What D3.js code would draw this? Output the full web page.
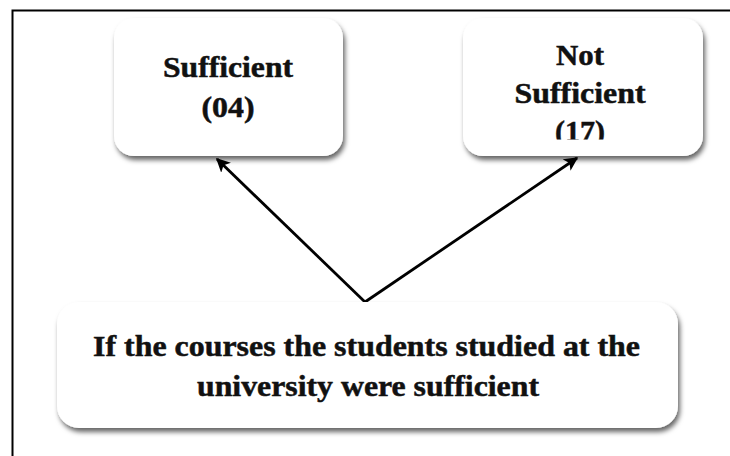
<!DOCTYPE html>
<html>
<head>
<meta charset="utf-8">
<script src="https://cdn.jsdelivr.net/npm/d3@7"></script>
<style>
  body { margin: 0; background: #fff; }
  text { font-family: "Liberation Serif", "Times New Roman", serif; font-weight: bold; fill: #111; stroke: #111; stroke-width: 0.5px; }
</style>
</head>
<body>
<div class="chart"></div>
<script>
// Diagram data
var outcomes = ['Sufficient', 'Not Sufficient']
var outcomeLines = [['Sufficient'], ['Not', 'Sufficient']]
var counts = [4, 17]
var questionLines = ['If the courses the students studied at the', 'university were sufficient']

var width = 730
var height = 456

var svg = d3.select('.chart')
  .append('svg')
  .attr('width', width)
  .attr('height', height)

var defs = svg.append('defs')

defs.append('filter')
  .attr('id', 'shadow')
  .attr('x', '-10%').attr('y', '-10%')
  .attr('width', '125%').attr('height', '135%')
  .append('feDropShadow')
  .attr('dx', 2)
  .attr('dy', 4)
  .attr('stdDeviation', 2.5)
  .attr('flood-color', '#000')
  .attr('flood-opacity', 0.6)

defs.append('marker')
  .attr('id', 'arrow')
  .attr('viewBox', '0 0 10 10')
  .attr('refX', 9)
  .attr('refY', 5)
  .attr('markerWidth', 5)
  .attr('markerHeight', 5)
  .attr('markerUnits', 'strokeWidth')
  .attr('orient', 'auto')
  .append('path')
  .attr('d', 'M0,0 L10,5 L0,10 L2.5,5 Z')
  .attr('fill', '#000')

// Frame (top and left edges only)
svg.append('path')
  .attr('d', 'M12.5,456 L12.5,10.5 L730,10.5')
  .attr('fill', 'none')
  .attr('stroke', '#000')
  .attr('stroke-width', 2)

// Scales for layout
var xScale = d3.scalePoint()
  .domain(outcomes)
  .range([228.5, 583])

var boxWidth = d3.scaleOrdinal().domain(outcomes).range([229, 240])
var boxTop = 18
var boxHeight = 138

var qBox = { x: 57, y: 302, w: 621, h: 126 }
var apex = [365, 302]

// Arrows from the question box to the outcome boxes
var tips = [[217, 159], [577, 158]]
svg.selectAll('line.arrow')
  .data(outcomes)
  .enter()
  .append('line')
  .attr('class', 'arrow')
  .attr('x1', apex[0])
  .attr('y1', apex[1])
  .attr('x2', (d, i) => tips[i][0])
  .attr('y2', (d, i) => tips[i][1])
  .attr('stroke', '#000')
  .attr('stroke-width', 2.8)
  .attr('marker-end', 'url(#arrow)')

// Outcome boxes
var fmt = d3.format('02d')

var groups = svg.selectAll('g.outcome')
  .data(outcomes)
  .enter()
  .append('g')
  .attr('class', 'outcome')

groups.append('rect')
  .attr('x', d => xScale(d) - boxWidth(d) / 2)
  .attr('y', boxTop)
  .attr('width', d => boxWidth(d))
  .attr('height', boxHeight)
  .attr('rx', 20)
  .attr('fill', '#fff')
  .attr('filter', 'url(#shadow)')

// clip for the second box (text is cut off in the original)
defs.append('clipPath')
  .attr('id', 'clip1')
  .append('rect')
  .attr('x', 0).attr('y', 0)
  .attr('width', width).attr('height', 139.5)

var lineLayouts = [
  { first: 77, step: 40, widths: [130, 53] },
  { first: 65, step: 38, widths: [48, 131, 50] }
]

groups.each(function(d, i) {
  var g = d3.select(this).append('g')
  if (i === 1) g.attr('clip-path', 'url(#clip1)')
  var lines = outcomeLines[i].concat(['(' + fmt(counts[i]) + ')'])
  var lay = lineLayouts[i]
  g.selectAll('text')
    .data(lines)
    .enter()
    .append('text')
    .attr('x', xScale(d) - (i === 0 ? 0.5 : 3))
    .attr('y', (t, j) => lay.first + j * lay.step)
    .attr('text-anchor', 'middle')
    .attr('font-size', 30)
    .attr('textLength', (t, j) => lay.widths[j])
    .attr('lengthAdjust', 'spacingAndGlyphs')
    .text(t => t)
})

// Question box
svg.append('rect')
  .attr('x', qBox.x)
  .attr('y', qBox.y)
  .attr('width', qBox.w)
  .attr('height', qBox.h)
  .attr('rx', 22)
  .attr('fill', '#fff')
  .attr('filter', 'url(#shadow)')

var qWidths = [547, 342]
svg.selectAll('text.question')
  .data(questionLines)
  .enter()
  .append('text')
  .attr('class', 'question')
  .attr('x', (d, i) => i === 0 ? 366.5 : 368)
  .attr('y', (d, i) => 356 + i * 40)
  .attr('text-anchor', 'middle')
  .attr('font-size', 30)
  .attr('textLength', (d, i) => qWidths[i])
  .attr('lengthAdjust', 'spacingAndGlyphs')
  .text(d => d)
</script>
</body>
</html>
